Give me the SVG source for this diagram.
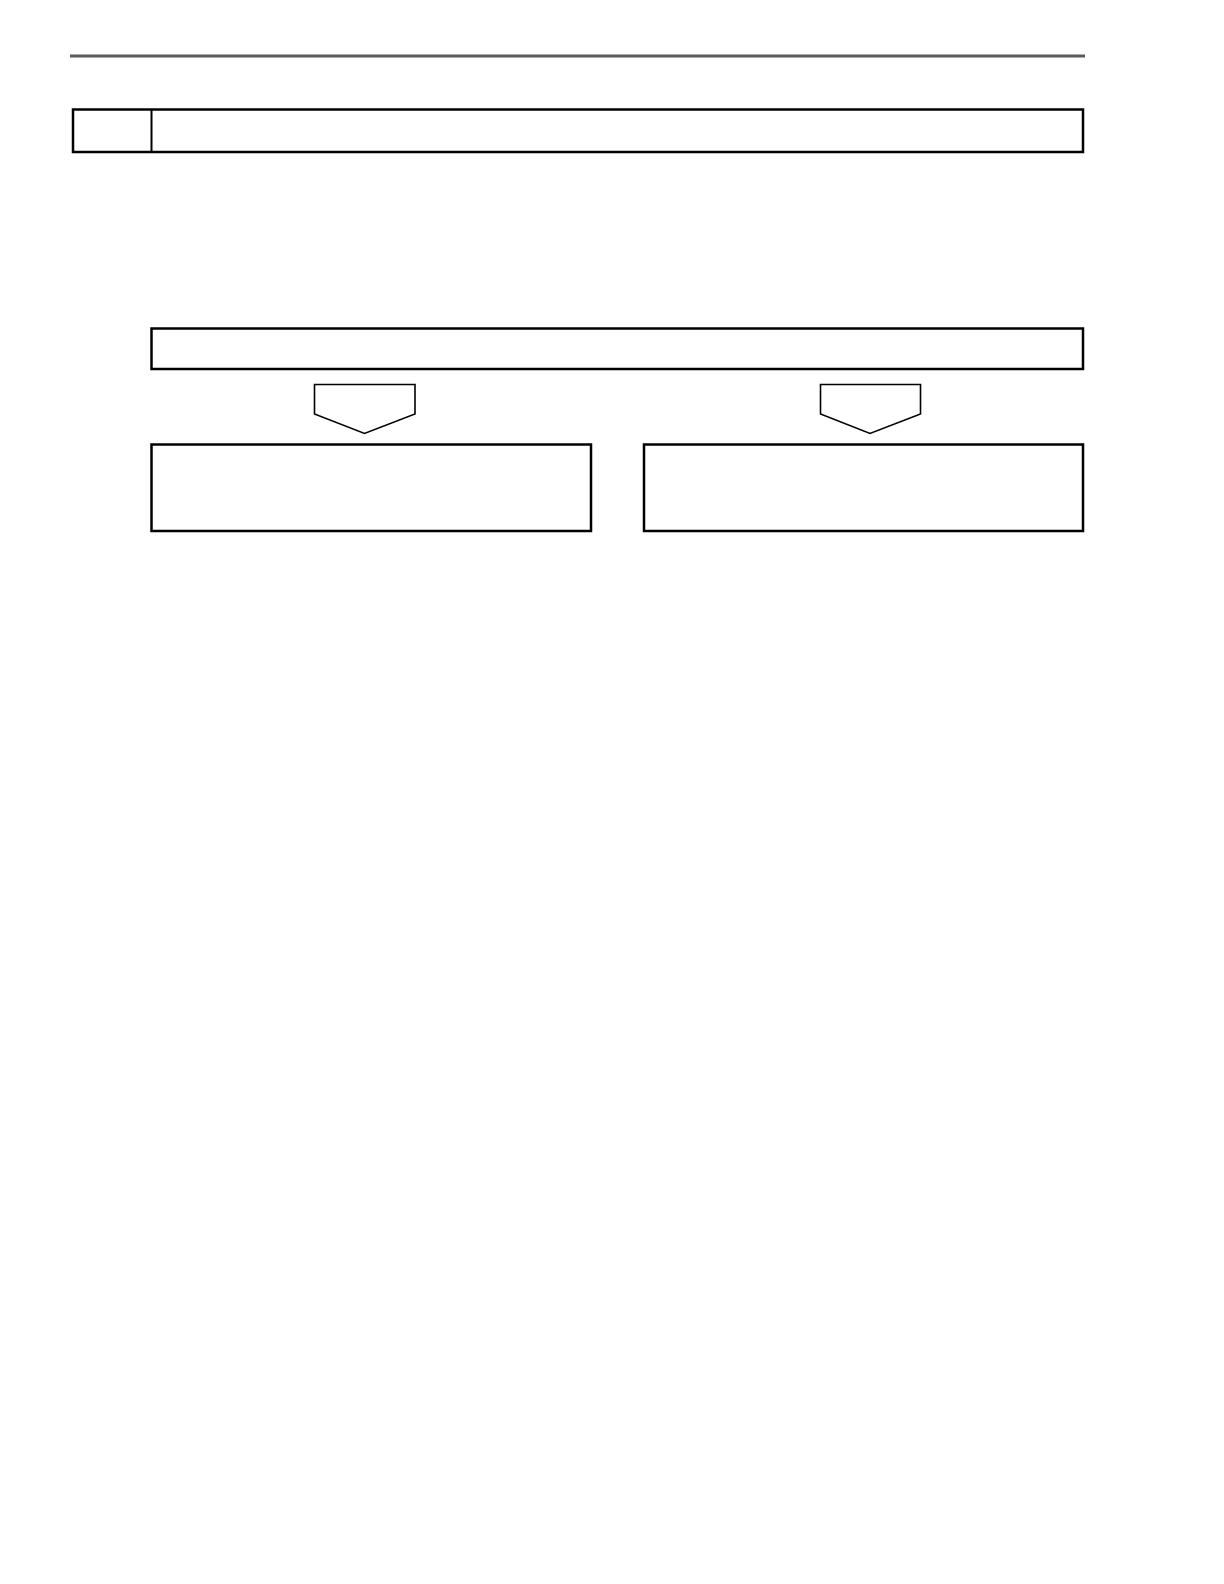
<svg xmlns="http://www.w3.org/2000/svg" width="1224" height="1584" viewBox="0 0 1224 1584">
<style>
.box{fill:#fff;stroke:#000;stroke-width:2.5}
.thin{fill:#fff;stroke:#000;stroke-width:1.6}
</style>
<rect x="0" y="0" width="1224" height="1584" fill="#fff"/>
<line x1="70" y1="56" x2="1085" y2="56" stroke="#5a5a5a" stroke-width="3"/>
<g id="header">
<rect class="box" x="73" y="109.5" width="1010" height="42.5"/>
<line x1="151.5" y1="109.5" x2="151.5" y2="152" stroke="#000" stroke-width="2"/>
</g>
<g id="top-box"><rect class="box" x="151.5" y="328.5" width="931.5" height="40.5"/></g>
<g id="connectors">
<polygon class="thin" points="314.5,384.5 415,384.5 415,414 364.5,433.5 314.5,414"/>
<polygon class="thin" points="820.5,384.5 920.5,384.5 920.5,414 870,433.5 820.5,414"/>
</g>
<g id="left-box"><rect class="box" x="151.5" y="444.5" width="439.5" height="86.5"/></g>
<g id="right-box"><rect class="box" x="644" y="444.5" width="439" height="86.5"/></g>
</svg>
